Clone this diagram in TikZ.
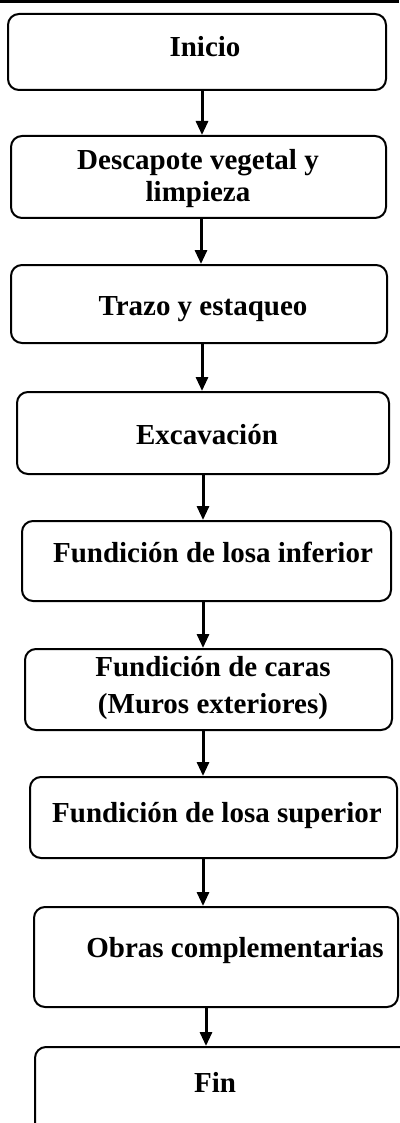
\documentclass[tikz,border=0pt]{standalone}
\usepackage{fontspec}
\setmainfont{Liberation Serif}
\usetikzlibrary{arrows.meta}
\begin{document}
\begin{tikzpicture}[x=1pt,y=-1pt,
  box/.style={draw=black, line width=2pt, rounded corners=11pt, inner sep=0pt},
  lbl/.style={font=\fontsize{29}{35}\selectfont\bfseries, align=center, inner sep=0pt, anchor=base},
  arr/.style={line width=3pt, -{Triangle[width=12pt,length=14pt]}}]
\useasboundingbox (0,0) rectangle (399,1123);
\draw[line width=3pt] (0,2) -- (399,2);
% boxes
\node[box, minimum width=378pt, minimum height=76pt] (b1) at (197,52) {};
\node[box, minimum width=375pt, minimum height=82pt] (b2) at (198.5,177) {};
\node[box, minimum width=376pt, minimum height=78pt] (b3) at (199,304) {};
\node[box, minimum width=372pt, minimum height=82pt] (b4) at (203,433) {};
\node[box, minimum width=369pt, minimum height=80pt] (b5) at (206.5,561) {};
\node[box, minimum width=367pt, minimum height=81pt] (b6) at (208.5,689.5) {};
\node[box, minimum width=367pt, minimum height=81pt] (b7) at (213.5,817.5) {};
\node[box, minimum width=364pt, minimum height=100pt] (b8) at (216,957) {};
\node[box, minimum width=375pt, minimum height=93pt] (b9) at (222.5,1093.5) {};
% labels
\node[lbl] (t1) at (205,57) {Inicio};
\node[lbl] (t2) at (198,202) {Descapote vegetal y\\[-3pt]limpieza};
\node[lbl] (t3) at (203,315) {Trazo y estaqueo};
\node[lbl] (t4) at (207,444) {Excavación};
\node[lbl] (t5) at (213,562) {Fundición de losa inferior};
\node[lbl] (t6) at (213,713) {Fundición de caras\\[2pt](Muros exteriores)};
\node[lbl] (t7) at (217,822) {Fundición de losa superior};
\node[lbl] (t8) at (235,957) {Obras complementarias};
\node[lbl] (t9) at (215,1092) {Fin};
% arrows
\draw[arr] (b1.south -| 202,0) -- (b2.north -| 202,0);
\draw[arr] (b2.south -| 201,0) -- (b3.north -| 201,0);
\draw[arr] (b3.south -| 202,0) -- (b4.north -| 202,0);
\draw[arr] (b4.south -| 203,0) -- (b5.north -| 203,0);
\draw[arr] (b5.south -| 203,0) -- (b6.north -| 203,0);
\draw[arr] (b6.south -| 203,0) -- (b7.north -| 203,0);
\draw[arr] (b7.south -| 203,0) -- (b8.north -| 203,0);
\draw[arr] (b8.south -| 206,0) -- (b9.north -| 206,0);
\end{tikzpicture}
\end{document}
